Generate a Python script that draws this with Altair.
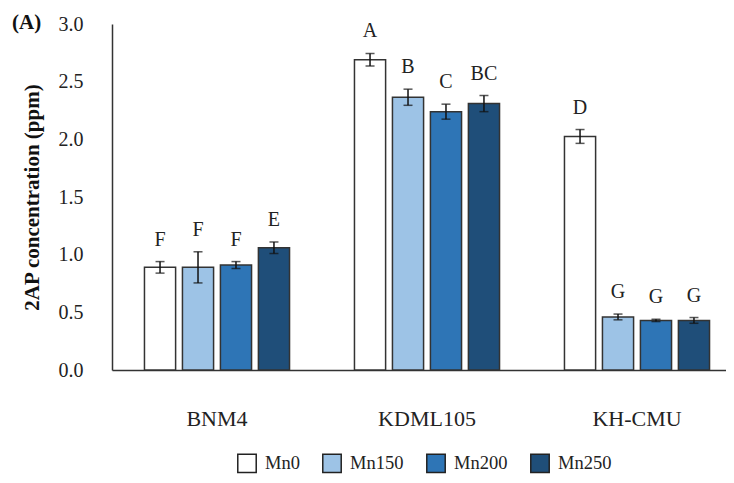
import altair as alt
import pandas as pd

cultivars = ["BNM4", "KDML105", "KH-CMU"]
treatments = ["Mn0", "Mn150", "Mn200", "Mn250"]
colors = ["#FFFFFF", "#9DC3E6", "#2E75B6", "#1F4E79"]

means_bnm4 = [0.89, 0.89, 0.91, 1.06]
means_kdml = [2.69, 2.365, 2.24, 2.31]
means_khcmu = [2.025, 0.46, 0.43, 0.43]

err_bnm4 = [0.05, 0.135, 0.03, 0.05]
err_kdml = [0.055, 0.07, 0.065, 0.07]
err_khcmu = [0.06, 0.025, 0.01, 0.025]

letters_bnm4 = ["F", "F", "F", "E"]
letters_kdml = ["A", "B", "C", "BC"]
letters_khcmu = ["D", "G", "G", "G"]

all_means = [means_bnm4, means_kdml, means_khcmu]
all_errs = [err_bnm4, err_kdml, err_khcmu]
all_letters = [letters_bnm4, letters_kdml, letters_khcmu]

rows = []
for c, ms, es, ls in zip(cultivars, all_means, all_errs, all_letters):
    for t, m, e, l in zip(treatments, ms, es, ls):
        rows.append({"cultivar": c, "treatment": t, "mean": m,
                     "lo": m - e, "hi": m + e, "letter": l})
df = pd.DataFrame(rows)

FONT = "Liberation Serif"

x = alt.X("cultivar:N", sort=cultivars,
          scale=alt.Scale(range=[0, 630], paddingInner=0, paddingOuter=0),
          axis=alt.Axis(title=None, labelAngle=0, ticks=False, labelPadding=38,
                        labelFontSize=22, labelFont=FONT, labelColor="#222",
                        domainColor="#333", domainWidth=1.5))
xo = alt.XOffset("treatment:N", sort=treatments,
                 scale=alt.Scale(paddingInner=0.18, paddingOuter=0.855))

yax = alt.Axis(values=[0, 0.5, 1.0, 1.5, 2.0, 2.5, 3.0], format=".1f",
               title="2AP concentration (ppm)", ticks=False, grid=False,
               labelPadding=29, labelFontSize=20, labelFont=FONT, labelColor="#222",
               titleFont=FONT, titleFontSize=21, titleFontWeight="bold",
               titleColor="#111", titlePadding=16,
               domainColor="#333", domainWidth=1.5)

base = alt.Chart(df)

bars = base.mark_bar(stroke="#333", strokeWidth=1.5).encode(
    x=x, xOffset=xo,
    y=alt.Y("mean:Q", scale=alt.Scale(domain=[0, 3]), axis=yax),
    color=alt.Color("treatment:N", sort=treatments,
                    scale=alt.Scale(domain=treatments, range=colors),
                    legend=alt.Legend(title=None, orient="none", legendX=125, legendY=429,
                                      direction="horizontal", symbolType="square",
                                      symbolSize=340, symbolStrokeColor="#222",
                                      symbolStrokeWidth=1.5, labelFont=FONT,
                                      labelFontSize=18.5, labelColor="#222",
                                      columnPadding=19, labelOffset=8)),
)

rules = base.mark_rule(color="#111", strokeWidth=1.5).encode(
    x=x, xOffset=xo, y="lo:Q", y2="hi:Q")
cap_lo = base.mark_tick(color="#111", thickness=1.5, size=9, orient="horizontal").encode(
    x=x, xOffset=xo, y="lo:Q")
cap_hi = base.mark_tick(color="#111", thickness=1.5, size=9, orient="horizontal").encode(
    x=x, xOffset=xo, y="hi:Q")
labels = base.mark_text(font=FONT, fontSize=20, dy=-22, baseline="middle",
                        color="#222").encode(
    x=x, xOffset=xo, y="hi:Q", text="letter:N")

panel = alt.Chart(alt.Data(values=[{"t": "(A)"}])).mark_text(
    font=FONT, fontSize=21, fontWeight="bold", align="left", baseline="middle",
    color="#111").encode(x=alt.value(-100), y=alt.value(-1), text="t:N")

chart = alt.layer(bars, rules, cap_lo, cap_hi, labels, panel).properties(
    width=614, height=346,
    autosize=alt.AutoSizeParams(type="none"),
    padding={"left": 104, "top": 16, "right": 0, "bottom": 105},
).configure_view(stroke=None)

chart.save("out.html", embed_options={"renderer": "svg", "actions": False})
